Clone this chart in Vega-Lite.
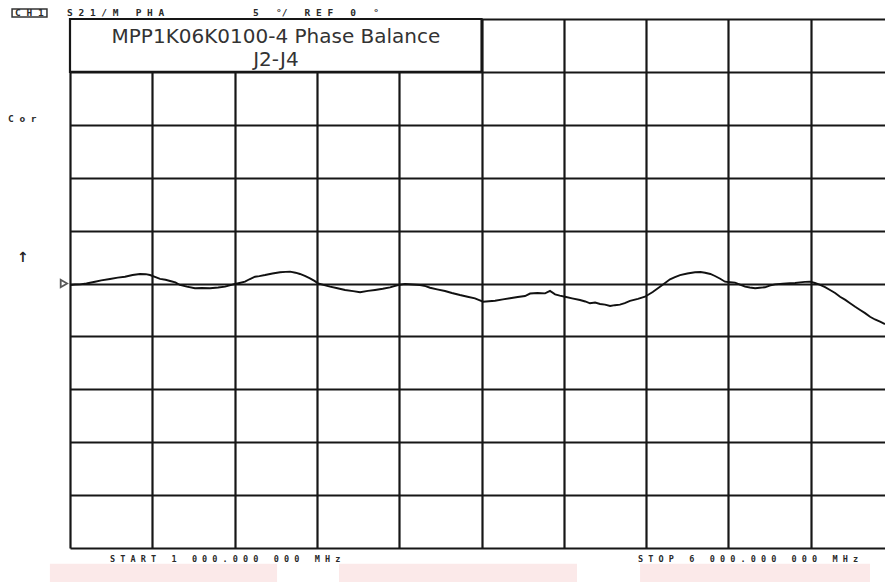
{
  "$schema": "https://vega.github.io/schema/vega-lite/v6.json",
  "width": 815,
  "height": 529,
  "autosize": {"type": "none"},
  "padding": {"left": 70, "top": 19, "right": 0, "bottom": 34},
  "background": "white",
  "config": {"view": {"stroke": null}},
  "datasets": {
    "pink": [
      {"x": 878, "x2": 2258, "y": -26.5, "y2": -28.3},
      {"x": 2634, "x2": 4080, "y": -26.5, "y2": -28.3},
      {"x": 4463, "x2": 5860, "y": -26.5, "y2": -28.3}
    ],
    "trace": [
      {"x":1000,"y":-0.14},{"x":1030,"y":-0.1},{"x":1061,"y":-0.08},{"x":1100,"y":0.0},{"x":1152,"y":0.17},{"x":1190,"y":0.3},{"x":1243,"y":0.43},{"x":1290,"y":0.55},{"x":1334,"y":0.64},{"x":1380,"y":0.8},{"x":1425,"y":0.9},{"x":1460,"y":0.88},{"x":1486,"y":0.8},{"x":1520,"y":0.6},{"x":1547,"y":0.43},{"x":1580,"y":0.35},{"x":1608,"y":0.24},{"x":1640,"y":0.1},{"x":1668,"y":-0.14},{"x":1710,"y":-0.3},{"x":1759,"y":-0.45},{"x":1800,"y":-0.42},{"x":1851,"y":-0.45},{"x":1900,"y":-0.38},{"x":1942,"y":-0.3},{"x":1975,"y":-0.15},{"x":2002,"y":-0.05},{"x":2030,"y":0.05},{"x":2063,"y":0.17},{"x":2090,"y":0.4},{"x":2124,"y":0.64},{"x":2150,"y":0.7},{"x":2185,"y":0.8},{"x":2230,"y":0.95},{"x":2276,"y":1.06},{"x":2310,"y":1.1},{"x":2337,"y":1.12},{"x":2370,"y":1.02},{"x":2397,"y":0.9},{"x":2430,"y":0.7},{"x":2458,"y":0.49},{"x":2485,"y":0.25},{"x":2507,"y":0.02},{"x":2545,"y":-0.15},{"x":2580,"y":-0.3},{"x":2625,"y":-0.45},{"x":2671,"y":-0.61},{"x":2720,"y":-0.72},{"x":2762,"y":-0.83},{"x":2810,"y":-0.7},{"x":2853,"y":-0.61},{"x":2900,"y":-0.5},{"x":2944,"y":-0.36},{"x":2993,"y":-0.14},{"x":3035,"y":-0.05},{"x":3080,"y":-0.1},{"x":3126,"y":-0.14},{"x":3160,"y":-0.25},{"x":3187,"y":-0.4},{"x":3230,"y":-0.55},{"x":3278,"y":-0.71},{"x":3320,"y":-0.9},{"x":3369,"y":-1.09},{"x":3415,"y":-1.25},{"x":3460,"y":-1.4},{"x":3490,"y":-1.6},{"x":3509,"y":-1.72},{"x":3545,"y":-1.68},{"x":3582,"y":-1.63},{"x":3630,"y":-1.5},{"x":3673,"y":-1.4},{"x":3720,"y":-1.28},{"x":3764,"y":-1.18},{"x":3795,"y":-0.95},{"x":3840,"y":-0.9},{"x":3886,"y":-0.93},{"x":3916,"y":-0.7},{"x":3947,"y":-1.02},{"x":3975,"y":-1.15},{"x":4007,"y":-1.25},{"x":4050,"y":-1.4},{"x":4098,"y":-1.56},{"x":4130,"y":-1.7},{"x":4159,"y":-1.87},{"x":4190,"y":-1.8},{"x":4220,"y":-1.94},{"x":4250,"y":-2.0},{"x":4281,"y":-2.13},{"x":4310,"y":-2.05},{"x":4341,"y":-2.0},{"x":4370,"y":-1.85},{"x":4402,"y":-1.65},{"x":4450,"y":-1.45},{"x":4493,"y":-1.25},{"x":4540,"y":-0.8},{"x":4584,"y":-0.3},{"x":4615,"y":0.05},{"x":4645,"y":0.4},{"x":4675,"y":0.6},{"x":4706,"y":0.8},{"x":4750,"y":0.95},{"x":4797,"y":1.06},{"x":4830,"y":1.08},{"x":4858,"y":1.02},{"x":4890,"y":0.9},{"x":4918,"y":0.71},{"x":4950,"y":0.45},{"x":4979,"y":0.17},{"x":5010,"y":0.12},{"x":5040,"y":0.08},{"x":5070,"y":-0.1},{"x":5101,"y":-0.3},{"x":5130,"y":-0.38},{"x":5162,"y":-0.45},{"x":5190,"y":-0.4},{"x":5222,"y":-0.36},{"x":5250,"y":-0.2},{"x":5283,"y":-0.08},{"x":5330,"y":-0.02},{"x":5374,"y":0.02},{"x":5405,"y":0.05},{"x":5435,"y":0.11},{"x":5465,"y":0.15},{"x":5496,"y":0.17},{"x":5525,"y":0.05},{"x":5557,"y":-0.14},{"x":5587,"y":-0.35},{"x":5617,"y":-0.61},{"x":5648,"y":-0.9},{"x":5678,"y":-1.25},{"x":5710,"y":-1.55},{"x":5739,"y":-1.87},{"x":5770,"y":-2.2},{"x":5800,"y":-2.5},{"x":5830,"y":-2.8},{"x":5860,"y":-3.14},{"x":5890,"y":-3.4},{"x":5921,"y":-3.61},{"x":5951,"y":-3.83}
    ],
    "marker": [{"x": 963, "y": 0}],
    "titlebox": [{"x": 1000, "x2": 3500, "y": 20, "y2": 25}],
    "titletext": [
      {"x": 2251, "y": 22.73, "t": "MPP1K06K0100-4 Phase Balance"},
      {"x": 2251, "y": 20.56, "t": "J2-J4"}
    ],
    "ch1box": [{"x": 648, "x2": 860, "y": 25.95, "y2": 25.19}],
    "toplabels": [
      {"x": 666, "y": 25.55, "t": "C\u00a0H\u00a01"},
      {"x": 982, "y": 25.52, "t": "S\u00a02\u00a01\u00a0/\u00a0M\u00a0\u00a0\u00a0P\u00a0H\u00a0A"},
      {"x": 2112, "y": 25.52, "t": "5\u00a0\u00a0\u00a0°/\u00a0\u00a0\u00a0R\u00a0E\u00a0F\u00a0\u00a0\u00a00\u00a0\u00a0\u00a0°"},
      {"x": 623, "y": 15.55, "t": "C\u00a0o\u00a0r"}
    ],
    "bottomlabels": [
      {"x": 1243, "y": -26.06, "t": "S\u00a0T\u00a0A\u00a0R\u00a0T\u00a0\u00a0\u00a01\u00a0\u00a0\u00a00\u00a00\u00a00\u00a0.\u00a00\u00a00\u00a00\u00a0\u00a0\u00a00\u00a00\u00a00\u00a0\u00a0\u00a0M\u00a0H\u00a0z"},
      {"x": 4451, "y": -26.06, "t": "S\u00a0T\u00a0O\u00a0P\u00a0\u00a0\u00a06\u00a0\u00a0\u00a00\u00a00\u00a00\u00a0.\u00a00\u00a00\u00a00\u00a0\u00a0\u00a00\u00a00\u00a00\u00a0\u00a0\u00a0M\u00a0H\u00a0z"}
    ],
    "arrow": [{"x": 714, "y": 2.41, "t": "↑"}]
  },
  "encoding": {
    "x": {
      "field": "x", "type": "quantitative",
      "scale": {"domain": [1000, 5951], "nice": false, "zero": false},
      "axis": {"values": [1000, 1500, 2000, 2500, 3000, 3500, 4000, 4500, 5000, 5500], "grid": true, "labels": false, "ticks": false, "domain": false, "title": null, "gridColor": "#161616", "gridWidth": 2.2, "gridOpacity": 1}
    },
    "y": {
      "field": "y", "type": "quantitative",
      "scale": {"domain": [-25, 25], "nice": false, "zero": false},
      "axis": {"values": [-25, -20, -15, -10, -5, 0, 5, 10, 15, 20, 25], "grid": true, "labels": false, "ticks": false, "domain": false, "title": null, "gridColor": "#161616", "gridWidth": 2.2, "gridOpacity": 1}
    }
  },
  "layer": [
    {"data": {"name": "pink"}, "mark": {"type": "rect", "color": "#fbe9e9"}, "encoding": {"x2": {"field": "x2"}, "y2": {"field": "y2"}}},
    {"data": {"name": "trace"}, "mark": {"type": "line", "color": "#111111", "strokeWidth": 1.9}, "encoding": {}},
    {"data": {"name": "marker"}, "mark": {"type": "point", "shape": "triangle-right", "filled": false, "color": "#111111", "strokeWidth": 1.8, "size": 55}, "encoding": {}},
    {"data": {"name": "titlebox"}, "mark": {"type": "rect", "fill": "white", "stroke": "#161616", "strokeWidth": 2.2}, "encoding": {"x2": {"field": "x2"}, "y2": {"field": "y2"}}},
    {"data": {"name": "titletext"}, "mark": {"type": "text", "font": "DejaVu Sans", "fontSize": 20, "align": "center", "baseline": "alphabetic", "color": "#333333"}, "encoding": {"text": {"field": "t"}}},
    {"data": {"name": "ch1box"}, "mark": {"type": "rect", "filled": false, "stroke": "#333333", "strokeWidth": 1.5}, "encoding": {"x2": {"field": "x2"}, "y2": {"field": "y2"}}},
    {"data": {"name": "toplabels"}, "mark": {"type": "text", "font": "DejaVu Sans Mono", "fontWeight": "bold", "fontSize": 9.5, "align": "left", "baseline": "middle", "color": "#2a2a2a"}, "encoding": {"text": {"field": "t"}}},
    {"data": {"name": "bottomlabels"}, "mark": {"type": "text", "font": "DejaVu Sans Mono", "fontWeight": "bold", "fontSize": 8.5, "align": "left", "baseline": "middle", "color": "#2a2a2a"}, "encoding": {"text": {"field": "t"}}},
    {"data": {"name": "arrow"}, "mark": {"type": "text", "font": "DejaVu Sans", "fontWeight": "bold", "fontSize": 14, "align": "center", "baseline": "middle", "color": "#222222"}, "encoding": {"text": {"field": "t"}}}
  ]
}
